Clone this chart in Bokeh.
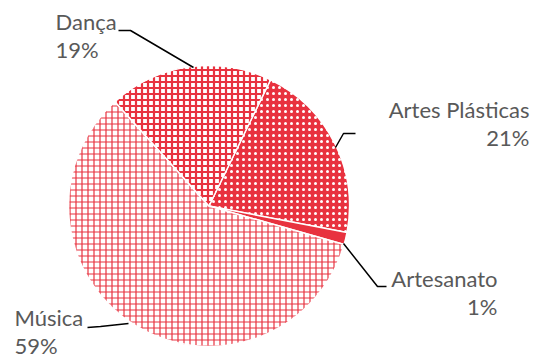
import math
from bokeh.plotting import figure
from bokeh.models import Range1d
from bokeh.core.properties import value
from bokeh.embed import file_html
from bokeh.resources import INLINE

# ---- data ----
categories = ["Artes Plásticas", "Artesanato", "Música", "Dança"]
values = [20.8, 1.4, 58.9, 18.9]
pct_labels = ["21%", "1%", "59%", "19%"]

# ---- styling / layout ----
RED = "#E8323F"
fills = [RED, RED, "white", "white"]
hatches = ["dot", " ", "cross", "cross"]
hatch_colors = ["white", "white", RED, RED]
hatch_weights = [1.2, 1.0, 1.2, 2.2]
hatch_scales = [6, 6, 6, 6]

# picture pixel -> data: x = px ; y = 360 - py
CX, CY, R = 208.5, 360 - 205.5, 140.5
START = 26.0  # compass degrees (clockwise from top) where first slice starts

p = figure(width=535, height=360, output_backend="svg", toolbar_location=None,
           x_range=Range1d(0, 535), y_range=Range1d(0, 360), min_border=0)
p.axis.visible = False
p.grid.visible = False
p.outline_line_color = None
p.background_fill_color = "white"

total = sum(values)
theta = START
for i, v in enumerate(values):
    span = v / total * 360.0
    t0, t1 = theta, theta + span
    theta = t1
    p.wedge(x=CX, y=CY, radius=R,
            start_angle=math.radians(90 - t1), end_angle=math.radians(90 - t0),
            fill_color=fills[i], line_color="white", line_width=1.5,
            hatch_pattern=hatches[i], hatch_color=hatch_colors[i],
            hatch_weight=hatch_weights[i], hatch_scale=hatch_scales[i])

# leader lines (pixel coords)
leaders = [
    [(335, 147), (343, 133), (355, 133)],
    [(343, 243), (377, 286), (386, 286)],
    [(128, 323), (100, 326), (87, 327)],
    [(193, 67), (130, 30), (118, 30)],
]
for pts in leaders:
    p.line([x for x, _ in pts], [360 - y for _, y in pts], line_color="black", line_width=1.5)

# labels: (x, baseline of name, align)  -- pixel baselines corrected for renderer offset
label_pos = [(529, 109, "right"), (497, 278, "right"), (14, 317, "left"), (55, 21, "left")]
for i, (lx, ly, al) in enumerate(label_pos):
    p.text(x=[lx, lx], y=[360 - ly, 360 - (ly + 28)], text=[categories[i], pct_labels[i]],
           text_font=value("Lato"), text_font_size="22px", text_color="#595959",
           text_align=al, text_baseline="alphabetic")

open("out.html", "w").write(file_html(p, INLINE))
